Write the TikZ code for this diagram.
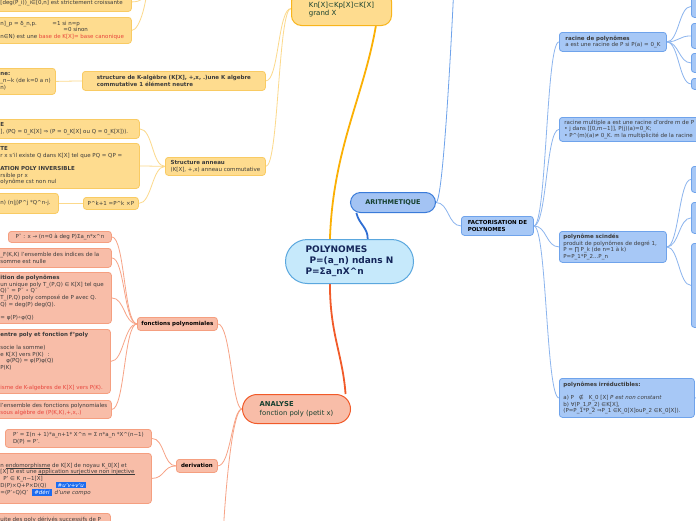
\documentclass[tikz,border=0pt]{standalone}
\usepackage{fontspec}
\setmainfont{DejaVu Sans}
\usetikzlibrary{backgrounds}

\definecolor{txt}{HTML}{3B3B3B}
\definecolor{dgreen}{HTML}{16402F}
\definecolor{navy}{HTML}{142559}
\definecolor{redtxt}{HTML}{E8453C}
\definecolor{tagblue}{HTML}{1C6CF0}
\definecolor{yfill}{HTML}{FEDC8F}
\definecolor{yline}{HTML}{F9CB63}
\definecolor{ytop}{HTML}{F8B51C}
\definecolor{ywire}{HTML}{FCD98B}
\definecolor{ythick}{HTML}{FBB004}
\definecolor{sfill}{HTML}{F8BDA8}
\definecolor{sline}{HTML}{F59F80}
\definecolor{sthick}{HTML}{F15A29}
\definecolor{swire}{HTML}{F7A386}
\definecolor{bfill}{HTML}{A7C8F6}
\definecolor{bline}{HTML}{6FA3EB}
\definecolor{afill}{HTML}{A3C3F3}
\definecolor{aline}{HTML}{3A7BD9}
\definecolor{bwire}{HTML}{8CB5EE}
\definecolor{bthick}{HTML}{2F6ED3}
\definecolor{cfill}{HTML}{C6E9FB}
\definecolor{cline}{HTML}{5AA7DE}

\newcommand{\tagchip}[1]{{\setlength{\fboxsep}{1.2pt}\colorbox{tagblue}{\textcolor{white}{\itshape\,#1\,}}}}
\newcommand{\uln}[1]{\setbox0\hbox{#1}\rlap{\rule[-1pt]{\wd0}{0.35pt}}#1}

\begin{document}
\begin{tikzpicture}[
    x=1pt, y=-1pt,
    every node/.style={font=\fontsize{5.5}{6.6}\selectfont, text=txt},
    card/.style={rectangle, draw, rounded corners=3pt, line width=0.8pt, align=left, inner xsep=4pt, inner ysep=1pt, anchor=north west},
    ycard/.style={card, fill=yfill, draw=yline},
    scard/.style={card, fill=sfill, draw=sline},
    bcard/.style={card, fill=bfill, draw=bline},
    ylink/.style={draw=ywire, line width=0.8pt},
    slink/.style={draw=swire, line width=0.8pt},
    blink/.style={draw=bwire, line width=0.8pt}
]
    \useasboundingbox (0,0) rectangle (696,520);

    % centre
    \node[card, rounded corners=22pt, fill=cfill, draw=cline, line width=1pt, minimum width=128pt, minimum height=44pt,
          font=\bfseries\fontsize{9}{11}\selectfont, text=navy] (poly) at (285,239)
          {POLYNOMES\\\hspace*{4pt}P=(a\_n) ndans N\\P=Σa\_nX\^{}n};

    % yellow branch
    \node[ycard, draw=ytop, line width=1pt, rounded corners=10pt, minimum width=100pt, minimum height=34pt,
          font=\fontsize{7}{8}\selectfont, text=dgreen] (notation) at (291,-9) {\mbox{}\\Kn[X]⊂Kp[X]⊂K[X]\\grand X};
    \node[ycard, minimum width=135pt, minimum height=19pt] (basedeg) at (-4,-8)
          {\makebox[127pt][l]{}\\{[}deg(P\_i))\_i∈[0,n] est strictement croissante};
    \node[ycard, minimum width=135pt, minimum height=26pt] (basecan) at (-4,17)
          {\makebox[127pt][l]{\makebox[52pt][l]{n]\_p = δ\_n,p.}=1 si n=p}\\\hspace*{63pt}=0 sinon\\n∈N) est une \textcolor{redtxt}{base de K[X]= base canonique}};
    \node[ycard, minimum width=183pt, minimum height=19pt, font=\bfseries\fontsize{5.5}{6.6}\selectfont] (kalg) at (82,71)
          {structure de K-algèbre (K[X], +,x, .)une K algebre\\commutative 1 élément neutre};
    \node[ycard, minimum width=59pt, minimum height=26pt] (binome) at (-4,68)
          {\makebox[51pt][l]{\textbf{ne:}}\\\_n−k (de k=0 a n)\\n)};
    \node[ycard, minimum width=100pt, minimum height=18pt] (anneau) at (165,157)
          {\textbf{Structure anneau}\\(K[X], +,x) anneau commutative};
    \node[ycard, minimum width=143pt, minimum height=19pt] (integre) at (-4,119)
          {\makebox[135pt][l]{\textbf{E}}\\], (PQ = 0\_K[X] ⇒ (P = 0\_K[X] ou Q = 0\_K[X])).};
    \node[ycard, minimum width=143pt, minimum height=45pt] (inversible) at (-4,143)
          {\makebox[135pt][l]{\textbf{TE}}\\r x s'il existe Q dans K[X] tel que PQ = QP =\\\mbox{}\\\textbf{ATION POLY INVERSIBLE}\\rsible pr x\\olynôme cst non nul};
    \node[ycard, minimum width=55pt, minimum height=12pt] (puissance) at (83,197) {P\^{}k+1 =P\^{}k ×P};
    \node[ycard, minimum width=62pt, minimum height=20pt] (newton) at (-4,193)
          {\makebox[54pt][l]{n) (n|j)P\^{}j *Q\^{}n-j.}};
    \coordinate (basis) at (148,-25);

    % blue branch
    \node[card, rounded corners=10pt, fill=afill, draw=aline, line width=1pt, minimum width=85pt, minimum height=20pt,
          font=\bfseries\fontsize{6.5}{8}\selectfont, text=dgreen] (arith) at (350,192) {ARITHMETIQUE};
    \node[bcard, minimum width=72pt, minimum height=19pt, font=\bfseries\fontsize{5.5}{6.6}\selectfont, text=black] (facto) at (461,216)
          {FACTORISATION DE\\POLYNOMES};
    \node[bcard, minimum width=107pt, minimum height=19pt] (racine) at (559,32)
          {\textbf{racine de polynômes}\\a est une racine de P si P(a) = 0\_K};
    \node[bcard, minimum width=160pt, minimum height=24pt] (racmult) at (559,117)
          {\makebox[150pt][l]{racine multiple a est une racine d'ordre m de P :}\\• j dans [[0,m−1]], P(j)(a)=0\_K;\\• P\^{}(m)(a)≠ 0\_K. m la multiplicité de la racine};
    \node[bcard, minimum width=107pt, minimum height=31pt] (scind) at (559,231)
          {\makebox[99pt][l]{\textbf{polynôme scindés}}\\produit de polynômes de degré 1,\\P = ∏ P\_k (de n=1 à k)\\P=P\_1*P\_2...P\_n};
    \node[bcard, minimum width=135pt, minimum height=39pt] (irred) at (559,378)
          {\makebox[127pt][l]{\textbf{polynômes irréductibles:}}\\\mbox{}\\a) P\hspace{5pt}∉\hspace{5pt}K\_0 [X] \textit{P est non constant}\\b) ∀(P\_1,P\_2) ∈K[X],\\(P=P\_1*P\_2 ⇒P\_1 ∈K\_0[X]ouP\_2 ∈K\_0[X]).};
    \node[bcard, minimum width=30pt, minimum height=22pt] (r1) at (691,-5) {};
    \node[bcard, minimum width=30pt, minimum height=25pt] (r2) at (691,23) {};
    \node[bcard, minimum width=30pt, minimum height=19pt] (r3) at (691,53) {};
    \node[bcard, minimum width=30pt, minimum height=11pt] (r4) at (691,78) {};
    \node[bcard, minimum width=30pt, minimum height=26pt] (s1) at (691,166) {};
    \node[bcard, minimum width=30pt, minimum height=31pt] (s2) at (691,202) {};
    \node[bcard, minimum width=30pt, minimum height=84pt] (s3) at (691,243) {};
    \coordinate (arithup) at (455,-40);
    \coordinate (irredout) at (720,397.5);

    % salmon branch
    \node[card, rounded corners=14.5pt, fill=sfill, draw=sthick, line width=1pt, minimum width=108pt, minimum height=29pt,
          font=\fontsize{6.8}{8.6}\selectfont, text=dgreen] (analyse) at (242,394) {\textbf{ANALYSE}\\fonction poly (petit x)};
    \node[scard, minimum width=80pt, minimum height=13pt, font=\bfseries\fontsize{5.5}{6.6}\selectfont, text=black] (fpoly) at (137,317) {fonctions polynomiales};
    \node[scard, minimum width=41pt, minimum height=13pt, font=\bfseries\fontsize{5.5}{6.6}\selectfont, text=black] (deriv) at (176,459) {derivation};
    \node[scard, minimum width=103pt, minimum height=11pt] (ptilde) at (8,231) {P˜ : x → (n=0 à deg P)Σa\_n*x\^{}n};
    \node[scard, minimum width=115pt, minimum height=19pt] (ensind) at (-4,248)
          {\makebox[107pt][l]{\_F(K,K) l'ensemble des indices de la}\\somme est nulle};
    \node[scard, minimum width=115pt, minimum height=51pt] (compo) at (-4,272)
          {\makebox[107pt][l]{\textbf{ition de polynômes}}\\un unique poly T\_(P,Q) ∈ K[X] tel que\\Q)˜ = P˜ ∘ Q˜\\T\_(P,Q) poly composé de P avec Q.\\Q) = deg(P) deg(Q).\\\mbox{}\\= φ(P)∘φ(Q)};
    \node[scard, minimum width=114pt, minimum height=64pt] (morph) at (-4,329)
          {\makebox[106pt][l]{\textbf{entre poly et fonction f°poly}}\\\mbox{}\\socie la somme)\\e K[X] vers P(K)\hspace{4pt}:\\\hspace*{6pt}φ(PQ) = φ(P)φ(Q)\\P(K)\\\mbox{}\\\mbox{}\\\textcolor{redtxt}{isme de K-algebres de K[X] vers P(K).}};
    \node[scard, minimum width=115pt, minimum height=18pt] (ssalg) at (-4,400)
          {\makebox[107pt][l]{l'ensemble des fonctions polynomiales}\\\textcolor{redtxt}{sous algèbre de (P(K,K),+,x,.)}};
    \node[scard, minimum width=146pt, minimum height=18pt] (dP) at (5,429)
          {P' = Σ(n + 1)*a\_n+1* X\^{}n = Σ n*a\_n *X\^{}(n−1)\\D(P) = P'.};
    \node[scard, minimum width=155pt, minimum height=50pt] (endo) at (-4,453)
          {\makebox[147pt][l]{}\\n \uln{endomorphisme} de K[X] de noyau K\_0[X] et\\{[}X] D est une \uln{application surjective non injective}\\\hspace*{3pt}P' ∈ K\_n−1[X]\\D(P)×Q+P×D(Q)\hspace{9pt}\tagchip{\#u'v+v'u}\\=(P'∘Q)Q'\hspace{4pt}\tagchip{\#déri}\hspace{3pt}\textit{d'une compo}};
    \node[scard, minimum width=114pt, minimum height=12pt] (succ) at (-4,513)
          {\makebox[106pt][l]{uite des poly dérivés successifs de P}};
    \coordinate (analysedown) at (222,560);

    \begin{scope}[on background layer]
        \fill[white] (0,0) rectangle (696,520);
        % main branches
        \draw[draw=bthick, line width=1.8pt] (poly.51) .. controls +(0,-12) and +(3,12) .. (arith.196);
        \draw[draw=ythick, line width=1.8pt] (poly.131) .. controls +(3,-90) and +(-12,70) .. (notation.-27);
        \draw[draw=sthick, line width=1.8pt] (poly.229) .. controls +(0,50) and +(-3,-40) .. (analyse.17);
        % yellow
        \foreach \c in {kalg,anneau}
            \draw[ylink] (notation.west) .. controls +(-13,0) and +(13,0) .. (\c.east);
        \foreach \c in {basedeg,basecan}
            \draw[ylink] (\c.east) .. controls +(8,0) and +(0,25) .. (basis);
        \draw[ylink] (kalg.west) -- (binome.east);
        \foreach \c in {integre,inversible,puissance}
            \draw[ylink] (anneau.west) .. controls +(-13,0) and +(13,0) .. (\c.east);
        \draw[ylink] (puissance.west) -- (newton.east);
        % blue
        \draw[blink] (arith.east) .. controls +(13,0) and +(-13,0) .. (facto.west);
        \draw[blink, draw=bline] (arith.east) .. controls +(8,0) and +(-1,30) .. (arithup);
        \foreach \c in {racine,racmult,scind,irred}
            \draw[blink] (facto.east) .. controls +(13,0) and +(-13,0) .. (\c.west);
        \foreach \c in {r1,r2,r3,r4}
            \draw[blink] (racine.east) .. controls +(12,0) and +(-12,0) .. (\c.west);
        \foreach \c in {s1,s2,s3}
            \draw[blink] (scind.east) .. controls +(12,0) and +(-12,0) .. (\c.west);
        \draw[blink] (irred.east) -- (irredout);
        % salmon
        \foreach \c in {fpoly,deriv}
            \draw[slink] (analyse.west) .. controls +(-10,0) and +(13,0) .. (\c.east);
        \draw[slink] (analyse.west) .. controls +(-10,0) and +(2,-60) .. (analysedown);
        \foreach \c in {ptilde,ensind,compo,morph,ssalg}
            \draw[slink] (fpoly.west) .. controls +(-13,0) and +(13,0) .. (\c.east);
        \foreach \c in {dP,endo}
            \draw[slink] (deriv.west) .. controls +(-13,0) and +(13,0) .. (\c.east);
    \end{scope}
\end{tikzpicture}
\end{document}
